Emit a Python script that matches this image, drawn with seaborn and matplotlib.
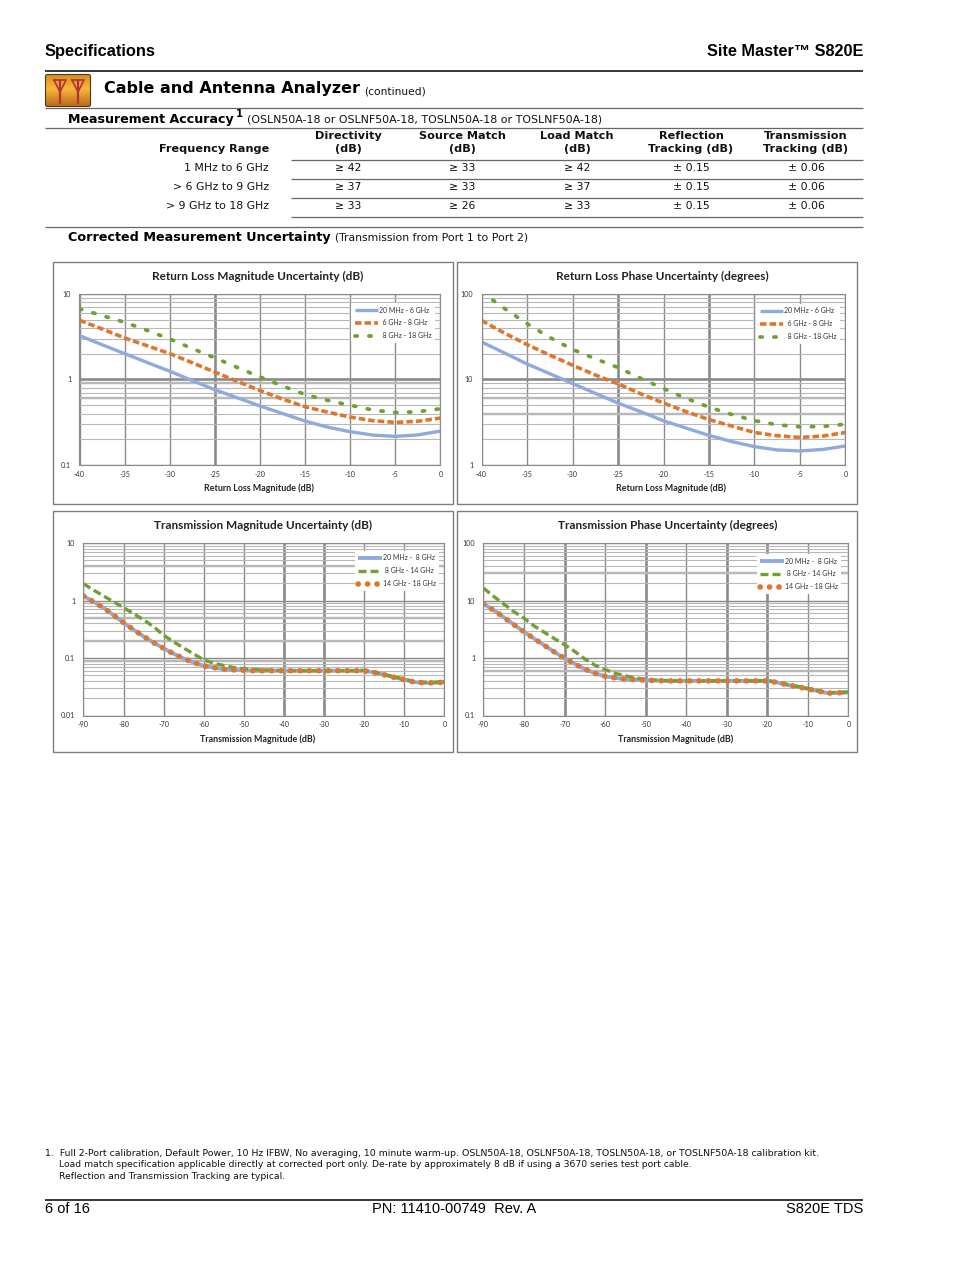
import numpy as np
import pandas as pd
import matplotlib
matplotlib.use("Agg")
import matplotlib.pyplot as plt
import seaborn as sns
from matplotlib.patches import Rectangle, FancyBboxPatch
from matplotlib.ticker import NullFormatter

BLUE = "#8faadc"
ORANGE = "#e0762b"
GREEN = "#70a035"

# return loss, 2.5 dB steps
rl_x = [-40, -37.5, -35, -32.5, -30, -27.5, -25, -22.5, -20, -17.5, -15, -12.5, -10, -7.5, -5, -2.5, 0]
rl_mag_1 = [3.26, 2.55, 2.01, 1.58, 1.25, 0.97, 0.76, 0.61, 0.49, 0.40, 0.326, 0.277, 0.245, 0.224, 0.216, 0.225, 0.249]
rl_mag_2 = [4.93, 3.9, 3.06, 2.48, 2.01, 1.57, 1.22, 0.95, 0.744, 0.59, 0.48, 0.415, 0.363, 0.33, 0.315, 0.325, 0.354]
rl_mag_3 = [6.7, 5.6, 4.67, 3.75, 2.98, 2.3, 1.79, 1.38, 1.07, 0.84, 0.668, 0.57, 0.50, 0.44, 0.41, 0.42, 0.455]
rl_ph_1 = [27.5, 20.5, 15.2, 11.7, 8.98, 6.9, 5.3, 4.2, 3.29, 2.7, 2.22, 1.88, 1.64, 1.5, 1.46, 1.52, 1.67]
rl_ph_2 = [49, 35, 25.6, 19.3, 14.7, 11.3, 8.9, 6.8, 5.3, 4.2, 3.4, 2.85, 2.4, 2.2, 2.1, 2.18, 2.4]
rl_ph_3 = [105, 68, 45, 31, 22.5, 17.5, 13.8, 10.3, 7.85, 6.0, 4.75, 3.9, 3.3, 2.95, 2.8, 2.82, 3.0]

# transmission, 2.5 dB steps
tr_x = [-90, -87.5, -85, -82.5, -80, -77.5, -75, -72.5, -70, -67.5, -65, -62.5, -60, -57.5, -55, -52.5, -50,
        -47.5, -45, -42.5, -40, -37.5, -35, -32.5, -30, -27.5, -25, -22.5, -20, -17.5, -15, -12.5, -10, -7.5, -5, -2.5, 0]
tr_mag_1 = [1.2, 0.95, 0.746, 0.557, 0.41, 0.31, 0.237, 0.185, 0.147, 0.118, 0.098, 0.083, 0.073, 0.068, 0.064, 0.062, 0.061,
            0.06, 0.06, 0.06, 0.06, 0.06, 0.06, 0.06, 0.06, 0.06, 0.06, 0.06, 0.06, 0.056, 0.051, 0.046, 0.042, 0.038, 0.037, 0.037, 0.038]
tr_mag_2 = [1.95, 1.52, 1.2, 0.95, 0.75, 0.59, 0.46, 0.35, 0.248, 0.19, 0.149, 0.117, 0.093, 0.081, 0.074, 0.068, 0.065,
            0.063, 0.062, 0.061, 0.06, 0.06, 0.06, 0.06, 0.06, 0.06, 0.06, 0.06, 0.061, 0.057, 0.052, 0.047, 0.043, 0.039, 0.038, 0.038, 0.039]
tr_mag_3 = tr_mag_1
tr_ph_1 = [8.7, 6.8, 5.1, 3.8, 2.85, 2.17, 1.66, 1.27, 0.985, 0.79, 0.64, 0.54, 0.48, 0.45, 0.43, 0.42, 0.41,
           0.405, 0.40, 0.40, 0.40, 0.40, 0.40, 0.40, 0.40, 0.40, 0.40, 0.40, 0.40, 0.375, 0.34, 0.315, 0.29, 0.265, 0.245, 0.248, 0.25]
tr_ph_2 = [16.4, 11.8, 8.7, 6.4, 4.9, 3.6, 2.8, 2.17, 1.7, 1.3, 0.96, 0.75, 0.63, 0.54, 0.49, 0.45, 0.425,
           0.41, 0.405, 0.40, 0.40, 0.40, 0.40, 0.40, 0.40, 0.40, 0.40, 0.40, 0.405, 0.38, 0.345, 0.32, 0.295, 0.27, 0.25, 0.253, 0.257]
tr_ph_3 = tr_ph_1

rl_labels = ["20 MHz - 6 GHz", "  6 GHz - 8 GHz", "  8 GHz - 18 GHz"]
tr_labels = ["20 MHz -  8 GHz", " 8 GHz - 14 GHz", "14 GHz - 18 GHz"]

row_labels = ["1 MHz to 6 GHz", "> 6 GHz to 9 GHz", "> 9 GHz to 18 GHz"]
col_heads = [("Directivity", "(dB)"), ("Source Match", "(dB)"), ("Load Match", "(dB)"),
             ("Reflection", "Tracking (dB)"), ("Transmission", "Tracking (dB)")]
directivity = ["≥ 42", "≥ 37", "≥ 33"]
source_match = ["≥ 33", "≥ 33", "≥ 26"]
load_match = ["≥ 42", "≥ 37", "≥ 33"]
reflection = ["± 0.15", "± 0.15", "± 0.15"]
transmission = ["± 0.06", "± 0.06", "± 0.06"]

W, H = 954, 1268
sns.set_theme(style="white")
plt.rcParams["font.family"] = ["DejaVu Sans"]
fig = plt.figure(figsize=(W / 100, H / 100), dpi=100, facecolor="white")

page = fig.add_axes([0, 0, 1, 1])
page.set_xlim(0, W)
page.set_ylim(H, 0)
page.axis("off")


def txt(x, y, s, size=7.8, weight="normal", ha="left", family="DejaVu Sans", color="#111111"):
    page.text(x, y, s, fontsize=size, fontweight=weight, ha=ha, va="baseline", family=family, color=color)


def hline(y, x0=45, x1=863, color="#666666", lw=0.9):
    page.plot([x0, x1], [y, y], color=color, lw=lw, solid_capstyle="butt")


# page header
txt(45, 56, "Specifications", 11.8, "bold", family="Liberation Sans", color="black")
txt(863, 56, "Site Master™ S820E", 11.7, "bold", ha="right", family="Liberation Sans", color="black")
hline(70.5, color="black", lw=1.1)

# icon
t = np.linspace(0, 1, 40)
grad = np.dstack([np.interp(t, [0, 0.45, 1], c)[:, None] for c in ([0.85, 0.97, 0.72], [0.55, 0.72, 0.40], [0.12, 0.22, 0.10])])
icon = page.imshow(grad, extent=(45, 91, 107, 74), aspect="auto", zorder=2)
patch = FancyBboxPatch((45.5, 74.5), 45, 32, boxstyle="round,pad=0,rounding_size=2", fc="none", ec="#4a3a20", lw=0.8,
                       transform=page.transData, zorder=3)
page.add_patch(patch)
icon.set_clip_path(patch)
page.set_xlim(0, W)
page.set_ylim(H, 0)
for cx in (60, 78):
    page.plot([cx - 6, cx + 6, cx, cx - 6], [80, 80, 92, 80], color="#b5323a", lw=1.2, zorder=4)
    page.plot([cx, cx], [80, 103], color="#b5323a", lw=1.6, zorder=4)

txt(104, 93, "Cable and Antenna Analyzer", 11.5, "bold", color="black")
txt(364, 94, "(continued)", 7.7)
hline(107.5)

txt(68, 123, "Measurement Accuracy", 9.1, "bold", color="black")
txt(236, 117, "1", 7.2, "bold", color="black")
txt(247, 123, "(OSLN50A-18 or OSLNF50A-18, TOSLN50A-18 or TOSLNF50A-18)", 7.93)
hline(127.5)

# table
col_x = [348, 462, 577, 691, 806]
row_y = [171, 190, 209]
txt(269, 152, "Frequency Range", 8.1, "bold", ha="right")
for cx, (h1, h2) in zip(col_x, col_heads):
    txt(cx, 139, h1, 8.1, "bold", ha="center")
    txt(cx, 152, h2, 8.1, "bold", ha="center")
columns = [directivity, source_match, load_match, reflection, transmission]
for i, ry in enumerate(row_y):
    txt(269, ry, row_labels[i], 7.8, ha="right")
    for cx, col in zip(col_x, columns):
        txt(cx, ry, col[i], 7.8, ha="center")
for ly in (159.5, 178.5, 197.5, 216.5):
    hline(ly, x0=291)
hline(226.5)
txt(68, 241, "Corrected Measurement Uncertainty", 9.15, "bold", color="black")
txt(335, 241, "(Transmission from Port 1 to Port 2)", 7.85)

# footnote and footer
txt(45, 1156, "1.  Full 2-Port calibration, Default Power, 10 Hz IFBW, No averaging, 10 minute warm-up. OSLN50A-18, OSLNF50A-18, TOSLN50A-18, or TOSLNF50A-18 calibration kit.", 6.72)
txt(59, 1167, "Load match specification applicable directly at corrected port only. De-rate by approximately 8 dB if using a 3670 series test port cable.", 6.66)
txt(59, 1179, "Reflection and Transmission Tracking are typical.", 6.7)
hline(1199.5, color="black", lw=1.1)
txt(45, 1213, "6 of 16", 10.5, family="Liberation Sans", color="black")
txt(372, 1213, "PN: 11410-00749  Rev. A", 10.5, family="Liberation Sans", color="black")
txt(863, 1213, "S820E TDS", 10.5, ha="right", family="Liberation Sans", color="black")


def panel(box, rect, title, title_x, xlabel, xlabel_x, x, series, labels, styles, ylim, yticklabels, xticks,
          thick_x, thick_y, thick_minor, leg_pos):
    x0, y0, x1, y1 = box
    page.add_patch(Rectangle((x0, y0), x1 - x0, y1 - y0, fc="white", ec="#7f7f7f", lw=1.0))
    l, t, r, b = rect
    ax = fig.add_axes([l / W, 1 - b / H, (r - l) / W, (b - t) / H])
    ax.set_yscale("log")
    ax.set_xlim(xticks[0], xticks[-1])
    ax.set_ylim(*ylim)
    ax.set_xticks(xticks)
    ax.set_xticklabels([str(v) for v in xticks], fontsize=5.1, family="Lato", color="#333333")
    decades = [ylim[0] * 10 ** i for i in range(len(yticklabels))]
    ax.set_yticks(decades)
    ax.set_yticklabels(yticklabels, fontsize=5.1, family="Lato", color="#333333")
    ax.yaxis.set_minor_locator(matplotlib.ticker.LogLocator(base=10, subs=range(2, 10), numticks=12))
    ax.yaxis.set_minor_formatter(NullFormatter())
    ax.tick_params(which="both", length=0, pad=4)
    ax.tick_params(axis="y", pad=6)
    ax.set_axisbelow(True)
    ax.grid(True, which="major", axis="both", color="#8a8a8a", lw=1.0)
    ax.grid(True, which="minor", axis="y", color="#b8b8b8", lw=0.8)
    for v, gl in zip(ax.get_xticks(), ax.get_xgridlines()):
        if v in thick_x:
            gl.set_linewidth(1.9)
    for v, gl in zip(ax.get_yticks(), ax.get_ygridlines()):
        if v in thick_y:
            gl.set_linewidth(1.9)
    for v in thick_minor:
        ax.axhline(v, color="#b8b8b8", lw=1.7, zorder=0.6)
    for s in ax.spines.values():
        s.set_color("#8a8a8a")
        s.set_linewidth(0.8)
    for y, lab, (col, lw, dash, cap) in zip(series, labels, styles):
        df = pd.DataFrame({"x": x, "y": y})
        sns.lineplot(data=df, x="x", y="y", ax=ax, color=col, lw=lw, label=lab, errorbar=None, sort=False)
        h = ax.get_lines()[-1]
        if dash:
            h.set_linestyle((0, dash))
            h.set_dash_capstyle(cap)
        else:
            h.set_solid_capstyle("butt")
    ax.set_xlabel("")
    ax.set_ylabel("")
    leg = ax.legend(loc="upper right", bbox_to_anchor=leg_pos, frameon=True, framealpha=1,
                    facecolor="white", edgecolor="none", borderpad=0.5, labelspacing=0.85,
                    handlelength=3.4, handletextpad=0.1, borderaxespad=0,
                    prop={"family": "Lato", "size": 5.0})
    for t_ in leg.get_texts():
        t_.set_color("#333333")
    page.text(title_x, y0 + 18.5, title, fontsize=8.5, fontweight="bold", family="Lato", ha="center", va="baseline", color="#222222")
    page.text(xlabel_x, b + 26, xlabel, fontsize=6.4, fontweight="bold", family="Lato", ha="center", va="baseline", color="#222222")
    return ax


rl_styles = [(BLUE, 2.4, None, None), (ORANGE, 2.6, (1.8, 0.85), "butt"), (GREEN, 2.7, (0.6, 3.1), "round")]
tr_styles = [(BLUE, 2.8, None, None), (GREEN, 2.4, (2.4, 1.2), "butt"), (ORANGE, 4.0, (0.05, 1.65), "round")]

panel((53.5, 261.5, 453.5, 504), (79.5, 294, 440.5, 465), "Return Loss Magnitude Uncertainty (dB)", 257.5, "Return Loss Magnitude (dB)", 259.5,
      rl_x, [rl_mag_1, rl_mag_2, rl_mag_3], rl_labels, rl_styles, (0.1, 10), ["0.1", "1", "10"],
      [-40, -35, -30, -25, -20, -15, -10, -5, 0], [-25], [1], [0.9, 0.6], (0.985, 0.947))
panel((457.5, 261.5, 857.5, 504), (481.5, 294, 845.5, 465), "Return Loss Phase Uncertainty (degrees)", 662, "Return Loss Magnitude (dB)", 671.5,
      rl_x, [rl_ph_1, rl_ph_2, rl_ph_3], rl_labels, rl_styles, (1, 100), ["1", "10", "100"],
      [-40, -35, -30, -25, -20, -15, -10, -5, 0], [-25, -15], [10], [6, 4], (0.985, 0.942))
panel((53.5, 510.5, 453.5, 751.5), (83.5, 543, 444.5, 715.5), "Transmission Magnitude Uncertainty (dB)", 263, "Transmission Magnitude (dB)", 257.5,
      tr_x, [tr_mag_1, tr_mag_2, tr_mag_3], tr_labels, tr_styles, (0.01, 10), ["0.01", "0.1", "1", "10"],
      [-90, -80, -70, -60, -50, -40, -30, -20, -10, 0], [-40, -30], [], [4, 0.5, 0.2, 0.09], (0.985, 0.954))
panel((457.5, 510.5, 857.5, 751.5), (483.5, 543, 848.5, 715.5), "Transmission Phase Uncertainty (degrees)", 667.5, "Transmission Magnitude (dB)", 676,
      tr_x, [tr_ph_1, tr_ph_2, tr_ph_3], tr_labels, tr_styles, (0.1, 100), ["0.1", "1", "10", "100"],
      [-90, -80, -70, -60, -50, -40, -30, -20, -10, 0], [-70, -50, -30, -20], [], [30, 0.6], (0.98, 0.936))

fig.savefig("out.png", dpi=100)
